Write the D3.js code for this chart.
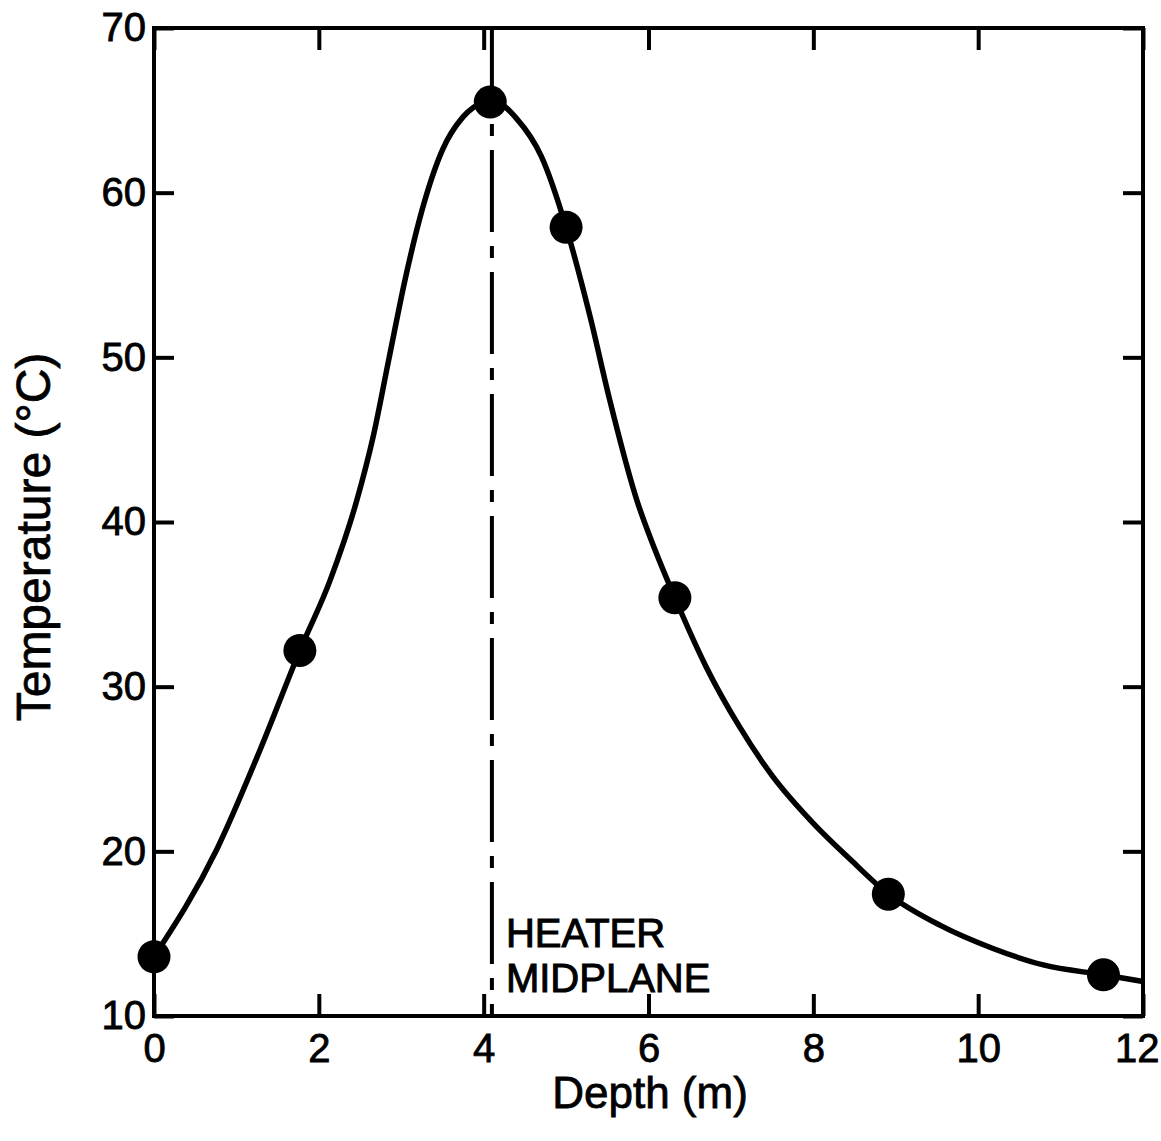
<!DOCTYPE html>
<html lang="en">
<head>
<meta charset="utf-8">
<title>Temperature vs Depth</title>
<script src="https://d3js.org/d3.v7.min.js"></script>
<style>
  body { margin: 0; background: #fff; }
  text { font-family: "Liberation Sans", Arial, sans-serif; fill: #000; }
</style>
</head>
<body>
<svg id="chart" width="1161" height="1141"></svg>
<script>
// measured points
var depth = [0, 1.77, 4.08, 5.0, 6.32, 8.91, 11.52];
var temp = [13.6, 32.2, 65.5, 57.9, 35.4, 17.4, 12.5];

// hand-drawn fitted curve
var curveDepth = [0, 0.76, 1.29, 1.77, 2.14, 2.46, 2.66, 2.85, 3.05, 3.25, 3.5, 3.75, 4.0, 4.1,
                  4.4, 4.7, 5.0, 5.29, 5.53, 5.86, 6.08, 6.32, 6.7, 7.1, 7.5, 8.0, 8.45,
                  8.91, 9.54, 10.18, 10.79, 11.52, 12.0];
var curveTemp = [13.6, 20.1, 26.2, 32.2, 36.5, 41.3, 45.2, 49.9, 54.8, 58.9, 62.6, 64.6, 65.5, 65.6,
                 64.5, 62.2, 57.9, 52.5, 47.4, 41.3, 38.3, 35.4, 31.2, 27.6, 24.6, 21.7, 19.5,
                 17.4, 15.5, 14.1, 13.1, 12.5, 12.1];

var xTicks = [0, 2, 4, 6, 8, 10, 12];
var yTicks = [10, 20, 30, 40, 50, 60, 70];
var heaterDepth = 4.1;

var margin = {left: 154, top: 28, right: 18, bottom: 125};
var W = 1161 - margin.left - margin.right;
var H = 1141 - margin.top - margin.bottom;

var svg = d3.select("#chart");
var g = svg.append("g").attr("transform", "translate(" + margin.left + "," + margin.top + ")");

var x = d3.scaleLinear().domain([0, 12]).range([0, W]);
var y = d3.scaleLinear().domain([10, 70]).range([H, 0]);

function styleAxis(sel) {
    sel.select(".domain").remove();
    sel.selectAll(".tick line").attr("stroke", "#000").attr("stroke-width", 4);
    sel.selectAll(".tick text").attr("font-size", 40).attr("fill", "#000")
        .attr("font-family", "Liberation Sans, Arial, sans-serif")
        .attr("stroke", "#000").attr("stroke-width", 0.8);
}

var xAxisG = g.append("g").attr("transform", "translate(0," + H + ")")
    .call(d3.axisBottom(x).tickValues(xTicks).tickSize(-22).tickPadding(18))
    .call(styleAxis);
// last label sits against the page edge
xAxisG.selectAll(".tick text").filter(function (d) { return d === 12; })
    .attr("text-anchor", "end").attr("x", 16);

g.append("g")
    .call(d3.axisTop(x).tickValues(xTicks).tickSize(-22).tickFormat(""))
    .call(styleAxis);
g.append("g")
    .call(d3.axisLeft(y).tickValues(yTicks).tickSize(-20).tickPadding(8))
    .call(styleAxis);
g.append("g").attr("transform", "translate(" + W + ",0)")
    .call(d3.axisRight(y).tickValues(yTicks).tickSize(-20).tickFormat(""))
    .call(styleAxis);

// frame
g.append("rect").attr("width", W).attr("height", H)
    .attr("fill", "none").attr("stroke", "#000").attr("stroke-width", 4);

// heater midplane
g.append("line")
    .attr("x1", x(heaterDepth)).attr("x2", x(heaterDepth))
    .attr("y1", 0).attr("y2", H)
    .attr("stroke", "#000").attr("stroke-width", 4)
    .attr("stroke-dasharray", "82,14,12,14");

g.append("text").attr("x", x(heaterDepth) + 14).attr("y", y(10) - 69)
    .attr("font-size", 40).attr("stroke", "#000").attr("stroke-width", 1)
    .text("HEATER");
g.append("text").attr("x", x(heaterDepth) + 14).attr("y", y(10) - 24)
    .attr("font-size", 40).attr("stroke", "#000").attr("stroke-width", 1)
    .text("MIDPLANE");

// curve
var line = d3.line()
    .x(function (d, i) { return x(curveDepth[i]); })
    .y(function (d, i) { return y(curveTemp[i]); })
    .curve(d3.curveMonotoneX);
g.append("path").datum(curveDepth)
    .attr("d", line)
    .attr("fill", "none").attr("stroke", "#000").attr("stroke-width", 5.5);

// points
g.selectAll("circle.pt").data(depth).enter().append("circle")
    .attr("class", "pt")
    .attr("cx", function (d) { return x(d); })
    .attr("cy", function (d, i) { return y(temp[i]); })
    .attr("r", 16.5)
    .attr("fill", "#000");

// axis titles
svg.append("text").attr("x", 650).attr("y", 1108)
    .attr("text-anchor", "middle").attr("font-size", 44)
    .attr("stroke", "#000").attr("stroke-width", 0.8)
    .text("Depth (m)");
svg.append("text")
    .attr("transform", "translate(50,537) rotate(-90)")
    .attr("text-anchor", "middle").attr("font-size", 48)
    .attr("stroke", "#000").attr("stroke-width", 0.8)
    .text("Temperature (°C)");
</script>
</body>
</html>
